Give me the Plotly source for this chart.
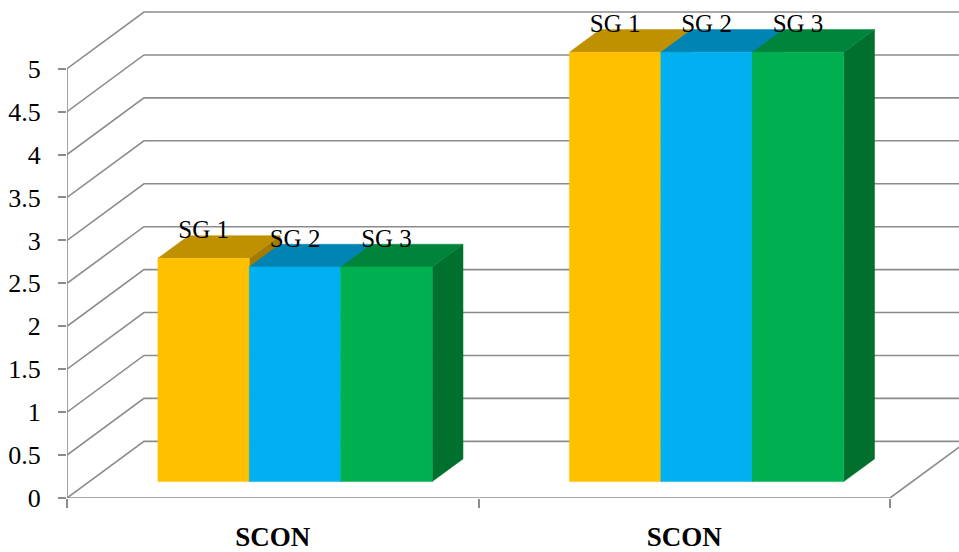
import plotly.graph_objects as go

# Chart data
categories = ["SCON", "SCON"]
series_names = ["SG 1", "SG 2", "SG 3"]
sg1 = [2.6, 5]
sg2 = [2.5, 5]
sg3 = [2.5, 5]
series_values = [sg1, sg2, sg3]
y_ticks = [0, 0.5, 1, 1.5, 2, 2.5, 3, 3.5, 4, 4.5, 5]
y_tick_text = ["0", "0.5", "1", "1.5", "2", "2.5", "3", "3.5", "4", "4.5", "5"]

# Faces: front, top, side
colors = [
    ("#FFC000", "#BF9000", "#A37B00"),
    ("#00B0F0", "#0084B4", "#00719A"),
    ("#00B050", "#00843C", "#00702F"),
]

# Oblique projection of the depth axis (in data units)
DX, DY = 0.187, 0.66
F0, F1 = 0.29, 0.69          # bar front / back depth fractions
GROUP_W = 2 / 3              # cluster width inside a category
BAR_W = GROUP_W / len(series_names)
X_MIN, X_MAX = -0.5, 1.6677
Y_MAX = 5.80
GRID = "#8c8c8c"

fig = go.Figure()

def poly(xs, ys, color):
    fig.add_trace(go.Scatter(
        x=xs + [xs[0]], y=ys + [ys[0]], mode="lines", fill="toself",
        fillcolor=color, line=dict(width=0.5, color=color),
        hoverinfo="skip", showlegend=False))

def line(xs, ys):
    fig.add_trace(go.Scatter(
        x=xs, y=ys, mode="lines", line=dict(color=GRID, width=1.6),
        hoverinfo="skip", showlegend=False))

# Back wall gridlines
x_left = -0.5
for v in y_ticks:
    line([x_left, x_left + DX, X_MAX + 0.5], [v, v + DY, v + DY])

# Floor front and right edges
n_cat = len(categories)
x_right = n_cat - 0.5
line([x_left, x_right, x_right + DX], [0, 0, DY])

# Value axis line
line([x_left, x_left], [0, y_ticks[-1]])

# Bars
label_x, label_y, label_t = [], [], []
for c in range(n_cat):
    for i, name in enumerate(series_names):
        v = series_values[i][c]
        x0 = c - GROUP_W / 2 + i * BAR_W
        x1 = x0 + BAR_W
        front, top, side = colors[i]
        # side face
        poly([x1 + F0 * DX, x1 + F1 * DX, x1 + F1 * DX, x1 + F0 * DX],
             [F0 * DY, F1 * DY, v + F1 * DY, v + F0 * DY], side)
        # top face
        poly([x0 + F0 * DX, x1 + F0 * DX, x1 + F1 * DX, x0 + F1 * DX],
             [v + F0 * DY, v + F0 * DY, v + F1 * DY, v + F1 * DY], top)
        # front face
        poly([x0 + F0 * DX, x1 + F0 * DX, x1 + F0 * DX, x0 + F0 * DX],
             [F0 * DY, F0 * DY, v + F0 * DY, v + F0 * DY], front)
        label_x.append((x0 + x1) / 2 + F0 * DX)
        label_y.append(v + F0 * DY + 0.31)
        label_t.append(name)

fig.add_trace(go.Scatter(
    x=label_x, y=label_y, text=label_t, mode="text",
    textposition="middle center",
    textfont=dict(family="Liberation Serif", size=25, color="#000000"),
    cliponaxis=False, hoverinfo="skip", showlegend=False))

# Invisible trace on the secondary axis for the category boundary ticks
fig.add_trace(go.Scatter(x=[0], y=[0], xaxis="x2", mode="markers",
                         marker=dict(opacity=0), hoverinfo="skip",
                         showlegend=False))

fig.update_layout(
    width=959, height=552,
    margin=dict(l=67, r=0, t=0, b=52),
    paper_bgcolor="white", plot_bgcolor="white",
    showlegend=False,
    xaxis=dict(
        range=[X_MIN, X_MAX], showgrid=False, zeroline=False,
        showline=False, tickmode="array", tickvals=list(range(n_cat)),
        ticktext=categories, ticks="", ticklabelstandoff=20,
        tickfont=dict(family="Liberation Serif", size=27, color="#000000",
                      weight="bold"),
        fixedrange=True),
    xaxis2=dict(
        range=[X_MIN, X_MAX], overlaying="x", anchor="y", side="bottom",
        showgrid=False, zeroline=False, showline=False, tickmode="array",
        tickvals=[k - 0.5 for k in range(n_cat + 1)],
        ticktext=["" for _ in range(n_cat + 1)],
        ticks="outside", ticklen=9, tickwidth=1.6, tickcolor=GRID,
        fixedrange=True),
    yaxis=dict(
        range=[0, Y_MAX], showgrid=False, zeroline=False, showline=False,
        tickmode="array", tickvals=y_ticks, ticktext=y_tick_text,
        ticks="outside", ticklen=8, tickwidth=1.6, tickcolor=GRID,
        ticklabelstandoff=12,
        tickfont=dict(family="Liberation Serif", size=26, color="#000000"),
        fixedrange=True),
)

fig.write_html("out.html")
